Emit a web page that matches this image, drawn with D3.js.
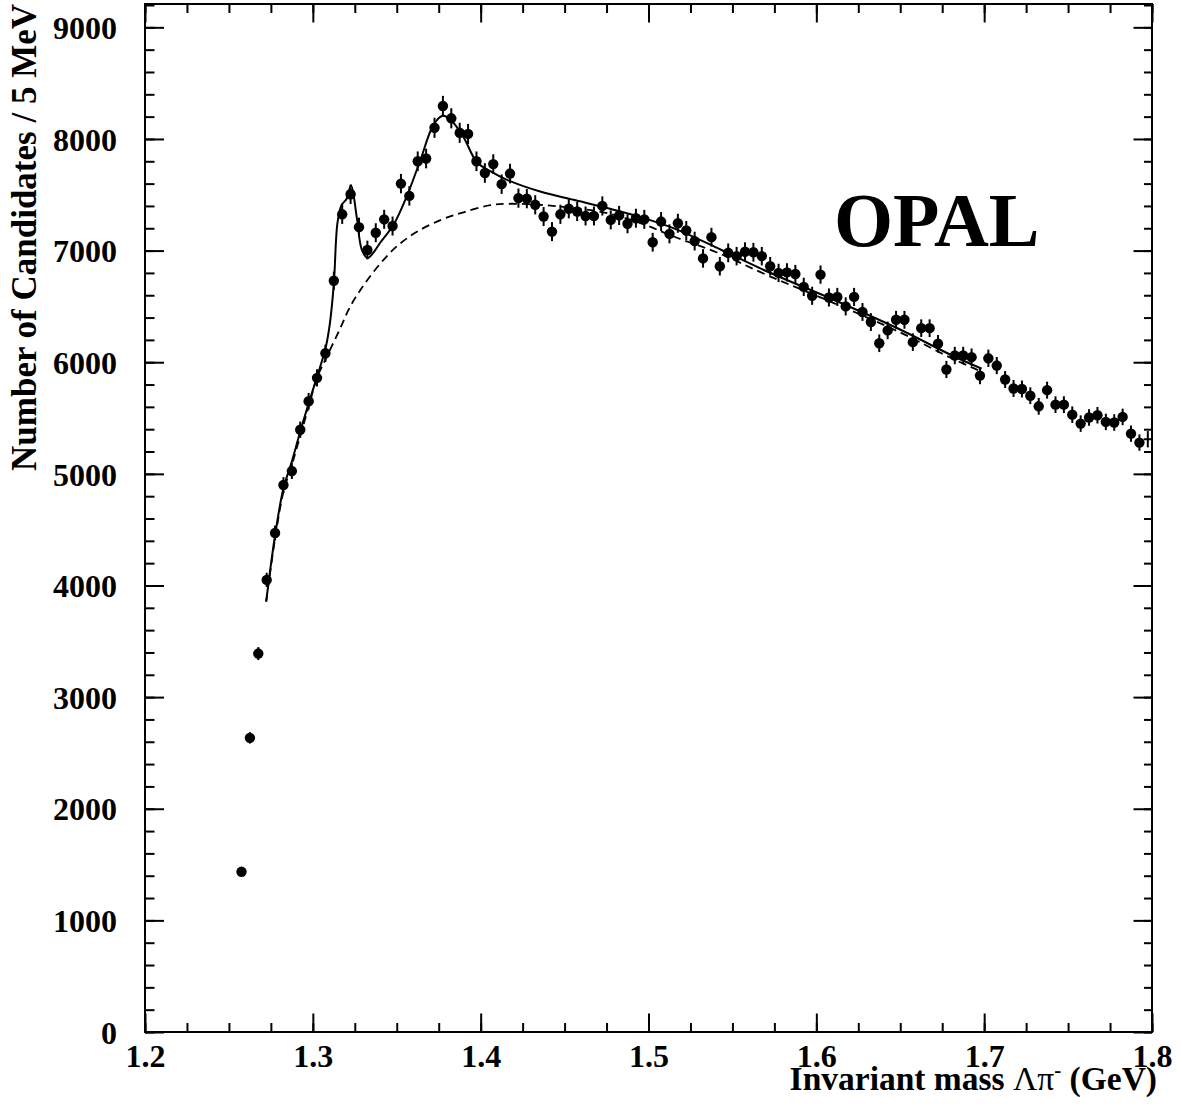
<!DOCTYPE html>
<html>
<head>
<meta charset="utf-8">
<script src="https://cdn.jsdelivr.net/npm/d3@7"></script>
<style>
  html, body { margin: 0; padding: 0; background: #fff; }
  svg { display: block; }
  text { font-family: "Liberation Serif", "Times New Roman", serif; font-weight: bold; fill: #000; }
</style>
</head>
<body>
<div id="chart"></div>
<script>
// ---------------- data ----------------
const massBins = [
  1.2575,1.2625,1.2675,1.2725,1.2775,1.2825,1.2875,1.2925,1.2975,1.3025,
  1.3075,1.3125,1.3175,1.3225,1.3275,1.3325,1.3375,1.3425,1.3475,1.3525,
  1.3575,1.3625,1.3675,1.3725,1.3775,1.3825,1.3875,1.3925,1.3975,1.4025,
  1.4075,1.4125,1.4175,1.4225,1.4275,1.4325,1.4375,1.4425,1.4475,1.4525,
  1.4575,1.4625,1.4675,1.4725,1.4775,1.4825,1.4875,1.4925,1.4975,1.5025,
  1.5075,1.5125,1.5175,1.5225,1.5275,1.5325,1.5375,1.5425,1.5475,1.5525,
  1.5575,1.5625,1.5675,1.5725,1.5775,1.5825,1.5875,1.5925,1.5975,1.6025,
  1.6075,1.6125,1.6175,1.6225,1.6275,1.6325,1.6375,1.6425,1.6475,1.6525,
  1.6575,1.6625,1.6675,1.6725,1.6775,1.6825,1.6875,1.6925,1.6975,1.7025,
  1.7075,1.7125,1.7175,1.7225,1.7275,1.7325,1.7375,1.7425,1.7475,1.7525,
  1.7575,1.7625,1.7675,1.7725,1.7775,1.7825,1.7875,1.7925,1.7975
];
const candidates = [
  1435,2635,3390,4050,4470,4900,5025,5395,5650,5860,
  6080,6730,7325,7505,7210,7005,7160,7280,7220,7600,
  7490,7800,7825,8100,8295,8185,8055,8045,7800,7695,
  7775,7595,7690,7470,7465,7410,7305,7170,7325,7375,
  7350,7310,7310,7400,7275,7315,7240,7290,7280,7075,
  7260,7150,7245,7180,7085,6930,7120,6860,6980,6950,
  6990,6985,6950,6860,6800,6805,6790,6675,6595,6785,
  6580,6585,6500,6585,6450,6360,6170,6285,6380,6380,
  6180,6305,6305,6165,5935,6060,6060,6045,5880,6035,
  5970,5845,5765,5760,5700,5605,5750,5620,5620,5530,
  5450,5505,5525,5465,5460,5510,5360,5280,5310
];
const errors = [
  38,51,58,64,67,70,71,73,75,77,
  78,82,86,87,85,84,85,85,85,87,
  87,88,88,90,91,90,90,90,88,88,
  88,87,88,86,86,86,85,85,86,86,
  86,85,85,86,85,86,85,85,85,84,
  85,85,85,85,84,83,84,83,84,83,
  84,84,83,83,82,82,82,82,81,82,
  81,81,81,81,80,80,79,79,80,80,
  79,79,79,79,77,78,78,78,77,78,
  77,76,76,76,75,75,76,75,75,74,
  74,74,74,74,74,74,73,73,73
];
// full fit (signal + background)
const fitMass = [1.2722,1.2775,1.2825,1.2875,1.2925,1.2975,1.3025,1.3075,1.3100,1.3125,
  1.3147,1.3172,1.3200,1.3228,1.3262,1.3292,1.3326,1.3360,1.3401,1.3481,
  1.3560,1.3640,1.3719,1.3775,1.3829,1.3898,1.3978,1.4057,1.4157,1.4355,
  1.4554,1.4753,1.4952,1.5148,1.5429,1.5707,1.6104,1.6502,1.6800,1.6985];
const fitValue = [3855,4450,4870,5110,5380,5630,5870,6120,6330,6700,
  7250,7410,7460,7583,7295,7007,6934,6980,7070,7231,
  7487,7807,8126,8207,8159,8015,7791,7711,7634,7529,
  7455,7381,7300,7201,7010,6813,6559,6291,6067,5942];
// background only
const bkgMass = [1.2722,1.2775,1.2825,1.2875,1.2925,1.2975,1.3024,1.3083,1.3163,1.3222,
  1.3302,1.3401,1.3501,1.3620,1.3768,1.3898,1.4057,1.4157,1.4355,1.4554,
  1.4753,1.4952,1.5150,1.5409,1.5707,1.6104,1.6502,1.6800,1.6985];
const bkgValue = [3855,4420,4840,5080,5340,5600,5856,6049,6303,6497,
  6688,6882,7039,7168,7278,7343,7407,7419,7410,7381,
  7336,7246,7126,6983,6780,6530,6265,6040,5915];

const xTicks = [1.2,1.3,1.4,1.5,1.6,1.7,1.8];
const yTicks = [0,1000,2000,3000,4000,5000,6000,7000,8000,9000];

// ---------------- layout ----------------
const W = 1181, H = 1111;
const L = 145, R = 1152, T = 4, B = 1032;

const svg = d3.select("#chart").append("svg").attr("width", W).attr("height", H);

const x = d3.scaleLinear().domain([1.2, 1.8]).range([L, R]);
const y = d3.scaleLinear().domain([0, 9209]).range([B, T]);

const xMinor = d3.range(1.2, 1.8001, 0.025).map(v => +v.toFixed(3));
const yMinor = d3.range(0, 9201, 200);

function styleAxis(g) {
  g.select(".domain").remove();
  g.selectAll(".tick line").attr("stroke", "#000").attr("stroke-width", 2);
}

// bottom axis
svg.append("g").attr("transform", `translate(0,${B})`)
  .call(d3.axisBottom(x).tickValues(xMinor).tickSizeInner(-9).tickFormat(""))
  .call(styleAxis);
const gxb = svg.append("g").attr("transform", `translate(0,${B})`)
  .call(d3.axisBottom(x).tickValues(xTicks).tickSizeInner(-18.5).tickPadding(12).tickFormat(d3.format(".1f")))
  .call(styleAxis);
gxb.selectAll("text").attr("font-size", 32).attr("font-family", "Liberation Serif, serif").attr("font-weight", "bold");

// top axis (ticks only)
svg.append("g").attr("transform", `translate(0,${T})`)
  .call(d3.axisTop(x).tickValues(xMinor).tickSizeInner(-9).tickFormat(""))
  .call(styleAxis);
svg.append("g").attr("transform", `translate(0,${T})`)
  .call(d3.axisTop(x).tickValues(xTicks).tickSizeInner(-18.5).tickFormat(""))
  .call(styleAxis);

// left axis
svg.append("g").attr("transform", `translate(${L},0)`)
  .call(d3.axisLeft(y).tickValues(yMinor).tickSizeInner(-9.5).tickFormat(""))
  .call(styleAxis);
const gyl = svg.append("g").attr("transform", `translate(${L},0)`)
  .call(d3.axisLeft(y).tickValues(yTicks).tickSizeInner(-19).tickPadding(28).tickFormat(d3.format("d")))
  .call(styleAxis);
gyl.selectAll("text").attr("font-size", 32).attr("dy", "0.35em")
  .attr("font-family", "Liberation Serif, serif").attr("font-weight", "bold");

// right axis (ticks only)
svg.append("g").attr("transform", `translate(${R},0)`)
  .call(d3.axisRight(y).tickValues(yMinor).tickSizeInner(-8).tickFormat(""))
  .call(styleAxis);
svg.append("g").attr("transform", `translate(${R},0)`)
  .call(d3.axisRight(y).tickValues(yTicks).tickSizeInner(-18.5).tickFormat(""))
  .call(styleAxis);

// frame
svg.append("rect").attr("x", L).attr("y", T).attr("width", R - L).attr("height", B - T)
  .attr("fill", "none").attr("stroke", "#000").attr("stroke-width", 2);

// ---------------- curves ----------------
const line = d3.line().x(d => x(d[0])).y(d => y(d[1])).curve(d3.curveCatmullRom.alpha(0.5));
svg.append("path").datum(bkgMass.map((m, i) => [m, bkgValue[i]]))
  .attr("d", line).attr("fill", "none").attr("stroke", "#000").attr("stroke-width", 1.8)
  .attr("stroke-dasharray", "8,5");
svg.append("path").datum(fitMass.map((m, i) => [m, fitValue[i]]))
  .attr("d", line).attr("fill", "none").attr("stroke", "#000").attr("stroke-width", 2);

// ---------------- data points ----------------
const pts = massBins.map((m, i) => ({ m, v: candidates[i], e: errors[i], last: i === massBins.length - 1 }));
const gp = svg.append("g");
gp.selectAll("line.err").data(pts).enter().append("line")
  .attr("x1", d => x(d.m)).attr("x2", d => x(d.m))
  .attr("y1", d => y(d.v - d.e)).attr("y2", d => y(d.v + d.e))
  .attr("stroke", "#000").attr("stroke-width", 2);
gp.selectAll("line.hbar").data(pts.filter(d => d.last)).enter().append("line")
  .attr("x1", d => x(d.m - 0.0025)).attr("x2", d => Math.min(R, x(d.m + 0.0025)))
  .attr("y1", d => y(d.v)).attr("y2", d => y(d.v))
  .attr("stroke", "#000").attr("stroke-width", 2);
gp.selectAll("circle").data(pts.filter(d => !d.last)).enter().append("circle")
  .attr("cx", d => x(d.m)).attr("cy", d => y(d.v)).attr("r", 5.2).attr("fill", "#000");

// ---------------- texts ----------------
svg.append("text").attr("x", 834).attr("y", 246).attr("font-size", 76).text("OPAL");

const xt = svg.append("text").attr("x", 1157).attr("y", 1090).attr("text-anchor", "end").attr("font-size", 33.5);
xt.append("tspan").text("Invariant mass ");
xt.append("tspan").attr("font-weight", "normal").text("Λπ");
xt.append("tspan").attr("font-size", 21).attr("dy", -13).text("-");
xt.append("tspan").attr("dy", 13).text(" (GeV)");

svg.append("text").attr("transform", "translate(36,4) rotate(-90)").attr("text-anchor", "end")
  .attr("font-size", 35).text("Number of Candidates / 5 MeV");
</script>
</body>
</html>
